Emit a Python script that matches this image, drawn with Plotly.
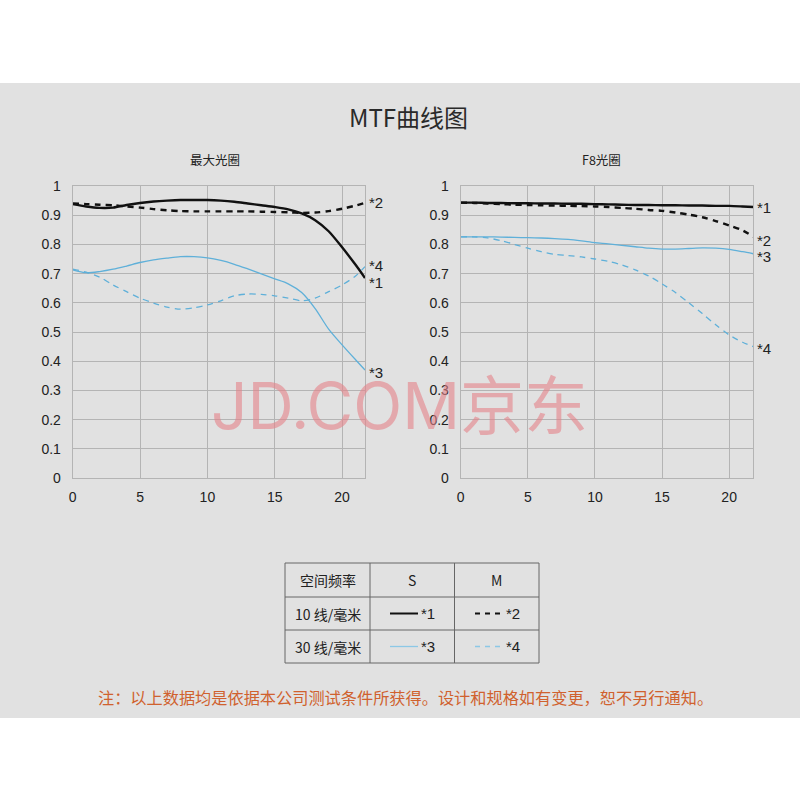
import plotly.graph_objects as go

# ---------------- data ----------------
x_left = [0, 1, 2, 3, 4, 5, 6, 7, 8, 9, 10, 11, 12, 13, 14, 15, 16, 17, 18, 19, 20, 21, 21.7]
left_s10 = [0.938, 0.93, 0.925, 0.926, 0.935, 0.942, 0.947, 0.95, 0.952, 0.952, 0.952, 0.95, 0.946,
            0.94, 0.934, 0.928, 0.92, 0.906, 0.883, 0.845, 0.79, 0.73, 0.685]
left_m10 = [0.94, 0.938, 0.936, 0.934, 0.93, 0.926, 0.921, 0.917, 0.914, 0.913, 0.913, 0.913, 0.913,
            0.913, 0.912, 0.911, 0.91, 0.908, 0.909, 0.914, 0.922, 0.933, 0.942]
left_s30 = [0.713, 0.703, 0.707, 0.715, 0.726, 0.738, 0.747, 0.753, 0.758, 0.758, 0.754, 0.745, 0.732,
            0.716, 0.699, 0.682, 0.665, 0.635, 0.58, 0.51, 0.456, 0.405, 0.37]
left_m30 = [0.715, 0.705, 0.688, 0.661, 0.638, 0.616, 0.599, 0.585, 0.578, 0.583, 0.593, 0.607, 0.624,
            0.63, 0.629, 0.624, 0.616, 0.607, 0.616, 0.638, 0.661, 0.692, 0.724]

x_right = [0, 1, 2, 3, 4, 5, 6, 7, 8, 9, 10, 11, 12, 13, 14, 15, 16, 17, 18, 19, 20, 21, 21.8]
right_s10 = [0.943, 0.943, 0.942, 0.942, 0.941, 0.941, 0.940, 0.940, 0.939, 0.939, 0.938, 0.937, 0.936,
             0.935, 0.935, 0.934, 0.934, 0.933, 0.933, 0.932, 0.932, 0.930, 0.928]
right_m10 = [0.943, 0.942, 0.940, 0.938, 0.936, 0.935, 0.934, 0.933, 0.932, 0.931, 0.93, 0.928, 0.925,
             0.922, 0.918, 0.915, 0.909, 0.902, 0.893, 0.88, 0.865, 0.848, 0.826]
right_s30 = [0.826, 0.826, 0.826, 0.825, 0.824, 0.823, 0.822, 0.82, 0.817, 0.812, 0.806, 0.802, 0.797,
             0.792, 0.787, 0.784, 0.784, 0.786, 0.788, 0.787, 0.783, 0.775, 0.768]
right_m30 = [0.826, 0.826, 0.822, 0.813, 0.80, 0.787, 0.775, 0.766, 0.762, 0.757, 0.75, 0.742, 0.73,
             0.713, 0.692, 0.665, 0.635, 0.60, 0.563, 0.525, 0.49, 0.465, 0.45]

y_ticks = [0, 0.1, 0.2, 0.3, 0.4, 0.5, 0.6, 0.7, 0.8, 0.9, 1]
y_tick_labels = ["0", "0.1", "0.2", "0.3", "0.4", "0.5", "0.6", "0.7", "0.8", "0.9", "1"]
x_ticks = [0, 5, 10, 15, 20]

series_names = ["*1", "*2", "*3", "*4"]
left_label_y = [0.67, 0.942, 0.36, 0.729]
right_label_y = [0.925, 0.815, 0.757, 0.445]

title_text = "MTF曲线图"
sub_left = "最大光圈"
sub_right = "F8光圈"
table_header = ["空间频率", "S", "M"]
table_rows = ["10 线/毫米", "30 线/毫米"]
note_text = "注：以上数据均是依据本公司测试条件所获得。设计和规格如有变更，恕不另行通知。"
watermark_latin = "JD.COM"
watermark_cjk = "京东"

# ---------------- styles ----------------
BLACK = "#111111"
BLUE = "#5fb0d9"
GRID = "#b4b4b4"
BG = "#e1e1e1"
LATIN = "Liberation Sans, Arial, sans-serif"
CJK = "Noto Sans CJK SC, sans-serif"

styles = [
    dict(color=BLACK, width=2.4, dash="solid"),
    dict(color=BLACK, width=2.4, dash="6px,5px"),
    dict(color=BLUE, width=1.3, dash="solid"),
    dict(color=BLUE, width=1.3, dash="6px,5px"),
]

W = 800.0


def px(x):
    return x / W


def py(y):
    return 1 - y / W


fig = go.Figure()

left_data = [left_s10, left_m10, left_s30, left_m30]
right_data = [right_s10, right_m10, right_s30, right_m30]

for i, ys in enumerate(left_data):
    fig.add_trace(go.Scatter(x=x_left, y=ys, mode="lines", line=dict(shape="spline", smoothing=0.8, **styles[i]),
                             xaxis="x", yaxis="y", showlegend=False, hoverinfo="skip"))
for i, ys in enumerate(right_data):
    fig.add_trace(go.Scatter(x=x_right, y=ys, mode="lines", line=dict(shape="spline", smoothing=0.8, **styles[i]),
                             xaxis="x2", yaxis="y2", showlegend=False, hoverinfo="skip"))

axis_common = dict(showgrid=True, gridcolor=GRID, gridwidth=1, showline=True, linecolor=GRID, linewidth=1,
                   mirror=True, zeroline=False, ticks="", automargin=False,
                   tickfont=dict(family=LATIN, size=14, color="#222"))

fig.update_layout(
    width=800, height=800,
    margin=dict(l=0, r=0, t=0, b=0, pad=0, autoexpand=False),
    paper_bgcolor="white",
    plot_bgcolor="rgba(0,0,0,0)",
    hovermode=False,
    xaxis=dict(domain=[px(72.7), px(365)], range=[0, 21.7], tickvals=x_ticks, anchor="y",
               ticklabelstandoff=6, **axis_common),
    yaxis=dict(domain=[py(478), py(186)], range=[0, 1], tickvals=y_ticks, ticktext=y_tick_labels, anchor="x",
               ticklabelstandoff=8, **axis_common),
    xaxis2=dict(domain=[px(460.7), px(753.3)], range=[0, 21.8], tickvals=x_ticks, anchor="y2",
                ticklabelstandoff=6, **axis_common),
    yaxis2=dict(domain=[py(478), py(186)], range=[0, 1], tickvals=y_ticks, ticktext=y_tick_labels, anchor="x2",
                ticklabelstandoff=8, **axis_common),
)

shapes = []
# gray band
shapes.append(dict(type="rect", xref="paper", yref="paper", x0=0, x1=1, y0=py(718), y1=py(83),
                   fillcolor=BG, line=dict(width=0), layer="below"))

annotations = []
# watermark
annotations.append(dict(text=watermark_latin + "<span style='font-family:Noto Sans CJK SC'>" + watermark_cjk + "</span>",
                        x=px(399), y=py(401), xref="paper", yref="paper", showarrow=False,
                        font=dict(family="Inter, Liberation Sans, sans-serif", size=64, color="rgba(228,130,136,0.6)"),
                        xanchor="center", yanchor="middle"))
# title and subtitles
annotations.append(dict(text=title_text, x=px(408), y=py(116), xref="paper", yref="paper", showarrow=False,
                        font=dict(family=CJK, size=24, color="#2a2a2a"), xanchor="center", yanchor="middle"))
annotations.append(dict(text=sub_left, x=px(215), y=py(160), xref="paper", yref="paper", showarrow=False,
                        font=dict(family=CJK, size=12.5, color="#222"), xanchor="center", yanchor="middle"))
annotations.append(dict(text=sub_right, x=px(601), y=py(160), xref="paper", yref="paper", showarrow=False,
                        font=dict(family=CJK, size=12.5, color="#222"), xanchor="center", yanchor="middle"))

# series end labels
for name, yv in zip(series_names, left_label_y):
    annotations.append(dict(text=name, x=21.7, y=yv, xref="x", yref="y", showarrow=False, xanchor="left",
                            yanchor="middle", xshift=2, font=dict(family=LATIN, size=15, color="#222")))
for name, yv in zip(series_names, right_label_y):
    annotations.append(dict(text=name, x=21.8, y=yv, xref="x2", yref="y2", showarrow=False, xanchor="left",
                            yanchor="middle", xshift=2, font=dict(family=LATIN, size=15, color="#222")))

# ---------------- table ----------------
TL, TC1, TC2, TR = 285, 370, 454.5, 539
TT, TR1, TR2, TB = 563, 597, 630, 663
TBORDER = "#666666"
for xv in [TL, TC1, TC2, TR]:
    shapes.append(dict(type="line", xref="paper", yref="paper", x0=px(xv), x1=px(xv), y0=py(TT), y1=py(TB),
                       line=dict(color=TBORDER, width=1)))
for yv in [TT, TR1, TR2, TB]:
    shapes.append(dict(type="line", xref="paper", yref="paper", x0=px(TL), x1=px(TR), y0=py(yv), y1=py(yv),
                       line=dict(color=TBORDER, width=1)))

col_centers = [(TL + TC1) / 2, (TC1 + TC2) / 2, (TC2 + TR) / 2]
row_centers = [(TT + TR1) / 2, (TR1 + TR2) / 2, (TR2 + TB) / 2]
for txt, cx in zip(table_header, col_centers):
    annotations.append(dict(text=txt, x=px(cx), y=py(row_centers[0]), xref="paper", yref="paper", showarrow=False,
                            font=dict(family=CJK, size=14, color="#222"), xanchor="center", yanchor="middle"))
for txt, cy in zip(table_rows, row_centers[1:]):
    annotations.append(dict(text=txt, x=px(col_centers[0]), y=py(cy), xref="paper", yref="paper", showarrow=False,
                            font=dict(family=CJK, size=14, color="#222"), xanchor="center", yanchor="middle"))

# legend samples inside table
sample_colors = [BLACK, BLACK, "#8cc8e6", "#8cc8e6"]
sample_pos = [(390, 418, 1), (475, 503, 1), (390, 418, 2), (475, 503, 2)]
for i, (x0, x1, r) in enumerate(sample_pos):
    st = styles[i]
    shapes.append(dict(type="line", xref="paper", yref="paper", x0=px(x0), x1=px(x1),
                       y0=py(row_centers[r]), y1=py(row_centers[r]),
                       line=dict(color=sample_colors[i], width=2 if i < 2 else 1.3,
                                 dash="solid" if st["dash"] == "solid" else "5px,5px")))
    annotations.append(dict(text=series_names[i], x=px(x1 + 1), y=py(row_centers[r]), xref="paper", yref="paper",
                            showarrow=False, xanchor="left", yanchor="middle",
                            font=dict(family=LATIN, size=15, color="#222")))

# footnote
annotations.append(dict(text=note_text, x=px(406), y=py(697), xref="paper", yref="paper", showarrow=False,
                        font=dict(family=CJK, size=16.2, color="#d0612e"), xanchor="center", yanchor="middle"))

fig.update_layout(shapes=shapes, annotations=annotations)

fig.write_html("out.html", config={"displayModeBar": False, "staticPlot": True},
               post_script="document.body.style.margin='0';document.body.style.overflow='hidden';")
